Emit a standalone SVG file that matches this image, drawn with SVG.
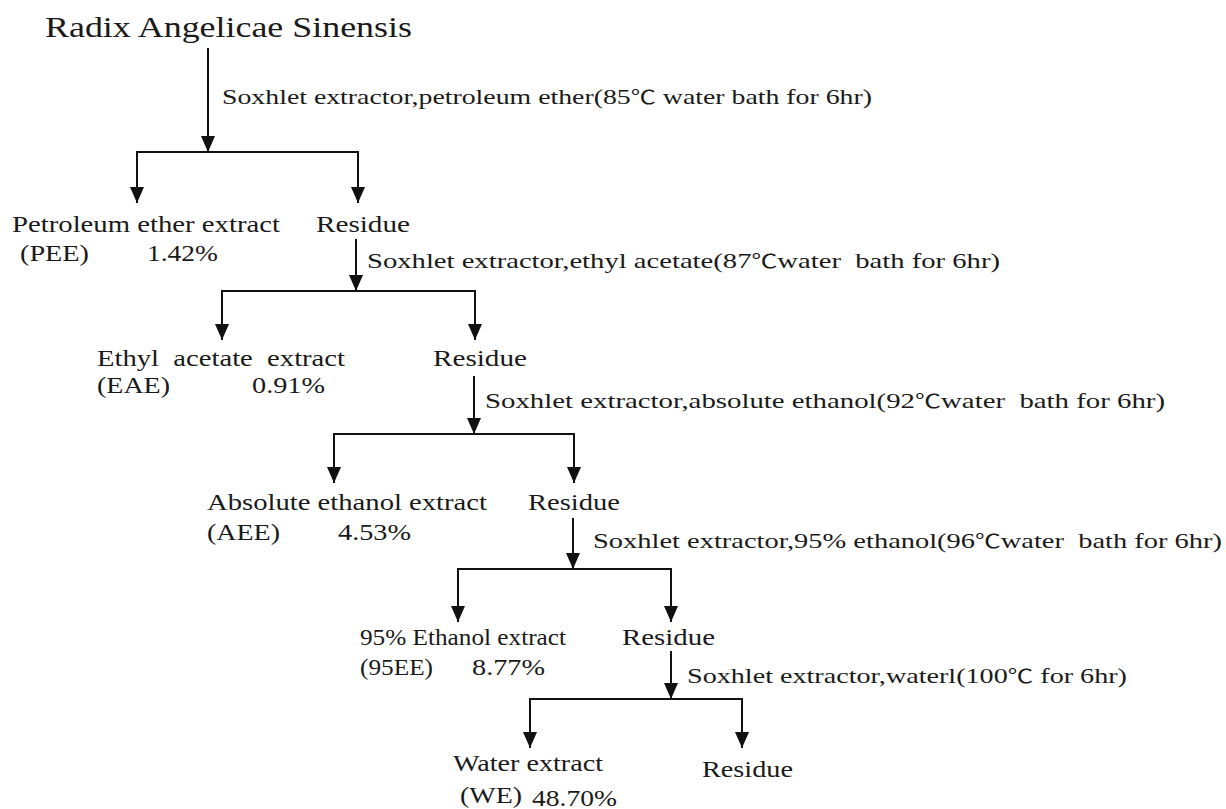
<svg xmlns="http://www.w3.org/2000/svg" width="1226" height="809" viewBox="0 0 1226 809">
<style>
text { font-family: "Liberation Serif", "Times New Roman", serif; fill: #1a1a1a; }
.title { font-size: 30px; }
.node { font-size: 24px; }
.lbl { font-size: 21px; white-space: pre; }
.deg { font-family: "Noto Sans CJK SC", "DejaVu Sans", sans-serif; font-size: 19px; }
.ln { stroke: #111; stroke-width: 2; fill: none; }
</style>
<defs>
<marker id="ah" viewBox="0 0 16 14" refX="16" refY="7" markerWidth="16" markerHeight="14" markerUnits="userSpaceOnUse" orient="auto">
<path d="M0,0 L16,7 L0,14 z" fill="#111"/>
</marker>
</defs>
<rect width="1226" height="809" fill="#fff"/>

<g id="connectors">
<line class="ln" x1="208" y1="48" x2="208" y2="152" marker-end="url(#ah)"/>
<polyline class="ln" points="137,152 358,152"/>
<line class="ln" x1="137" y1="151" x2="137" y2="203" marker-end="url(#ah)"/>
<line class="ln" x1="358" y1="151" x2="358" y2="203" marker-end="url(#ah)"/>

<line class="ln" x1="356" y1="239" x2="356" y2="291" marker-end="url(#ah)"/>
<polyline class="ln" points="222,291 475,291"/>
<line class="ln" x1="222" y1="290" x2="222" y2="340" marker-end="url(#ah)"/>
<line class="ln" x1="475" y1="290" x2="475" y2="340" marker-end="url(#ah)"/>

<line class="ln" x1="474" y1="376" x2="474" y2="434" marker-end="url(#ah)"/>
<polyline class="ln" points="334,434 574,434"/>
<line class="ln" x1="334" y1="433" x2="334" y2="483" marker-end="url(#ah)"/>
<line class="ln" x1="574" y1="433" x2="574" y2="483" marker-end="url(#ah)"/>

<line class="ln" x1="573" y1="518" x2="573" y2="569" marker-end="url(#ah)"/>
<polyline class="ln" points="458,569 671,569"/>
<line class="ln" x1="458" y1="568" x2="458" y2="622" marker-end="url(#ah)"/>
<line class="ln" x1="671" y1="568" x2="671" y2="622" marker-end="url(#ah)"/>

<line class="ln" x1="671" y1="651" x2="671" y2="699" marker-end="url(#ah)"/>
<polyline class="ln" points="530,699 742,699"/>
<line class="ln" x1="530" y1="698" x2="530" y2="748" marker-end="url(#ah)"/>
<line class="ln" x1="742" y1="698" x2="742" y2="748" marker-end="url(#ah)"/>

<text class="lbl" x="222" y="104" textLength="650" lengthAdjust="spacingAndGlyphs">Soxhlet extractor,petroleum ether(85<tspan class="deg">℃</tspan> water bath for 6hr)</text>
<text class="lbl" x="367" y="268" textLength="633" lengthAdjust="spacingAndGlyphs">Soxhlet extractor,ethyl acetate(87<tspan class="deg">℃</tspan>water  bath for 6hr)</text>
<text class="lbl" x="485" y="408" textLength="680" lengthAdjust="spacingAndGlyphs">Soxhlet extractor,absolute ethanol(92<tspan class="deg">℃</tspan>water  bath for 6hr)</text>
<text class="lbl" x="593" y="548" textLength="629" lengthAdjust="spacingAndGlyphs">Soxhlet extractor,95% ethanol(96<tspan class="deg">℃</tspan>water  bath for 6hr)</text>
<text class="lbl" x="687" y="683" textLength="440" lengthAdjust="spacingAndGlyphs">Soxhlet extractor,waterl(100<tspan class="deg">℃</tspan> for 6hr)</text>
</g>

<g id="n-root">
<text class="title" x="45" y="37" textLength="367" lengthAdjust="spacingAndGlyphs">Radix Angelicae Sinensis</text>
</g>

<g id="n-pee">
<text class="node" x="12" y="232" textLength="268" lengthAdjust="spacingAndGlyphs">Petroleum ether extract</text>
<text class="node" x="20" y="261" textLength="69" lengthAdjust="spacingAndGlyphs">(PEE)</text>
<text class="node" x="147" y="261" textLength="71" lengthAdjust="spacingAndGlyphs">1.42%</text>
</g>
<g id="n-res1">
<text class="node" x="316" y="232" textLength="94" lengthAdjust="spacingAndGlyphs">Residue</text>
</g>

<g id="n-eae">
<text class="node" x="97" y="366" textLength="248" lengthAdjust="spacingAndGlyphs" style="white-space:pre">Ethyl  acetate  extract</text>
<text class="node" x="97" y="393" textLength="73" lengthAdjust="spacingAndGlyphs">(EAE)</text>
<text class="node" x="252" y="393" textLength="73" lengthAdjust="spacingAndGlyphs">0.91%</text>
</g>
<g id="n-res2">
<text class="node" x="433" y="366" textLength="94" lengthAdjust="spacingAndGlyphs">Residue</text>
</g>

<g id="n-aee">
<text class="node" x="207" y="510" textLength="280" lengthAdjust="spacingAndGlyphs">Absolute ethanol extract</text>
<text class="node" x="207" y="540" textLength="73" lengthAdjust="spacingAndGlyphs">(AEE)</text>
<text class="node" x="338" y="540" textLength="73" lengthAdjust="spacingAndGlyphs">4.53%</text>
</g>
<g id="n-res3">
<text class="node" x="528" y="510" textLength="92" lengthAdjust="spacingAndGlyphs">Residue</text>
</g>

<g id="n-95ee">
<text class="node" x="360" y="645" textLength="206" lengthAdjust="spacingAndGlyphs">95% Ethanol extract</text>
<text class="node" x="360" y="675" textLength="73" lengthAdjust="spacingAndGlyphs">(95EE)</text>
<text class="node" x="472" y="675" textLength="73" lengthAdjust="spacingAndGlyphs">8.77%</text>
</g>
<g id="n-res4">
<text class="node" x="622" y="645" textLength="93" lengthAdjust="spacingAndGlyphs">Residue</text>
</g>

<g id="n-we">
<text class="node" x="453" y="771" textLength="150" lengthAdjust="spacingAndGlyphs">Water extract</text>
<text class="node" x="460" y="803" textLength="62" lengthAdjust="spacingAndGlyphs">(WE)</text>
<text class="node" x="532" y="806" textLength="85" lengthAdjust="spacingAndGlyphs">48.70%</text>
</g>
<g id="n-res5">
<text class="node" x="702" y="777" textLength="91" lengthAdjust="spacingAndGlyphs">Residue</text>
</g>
</svg>
